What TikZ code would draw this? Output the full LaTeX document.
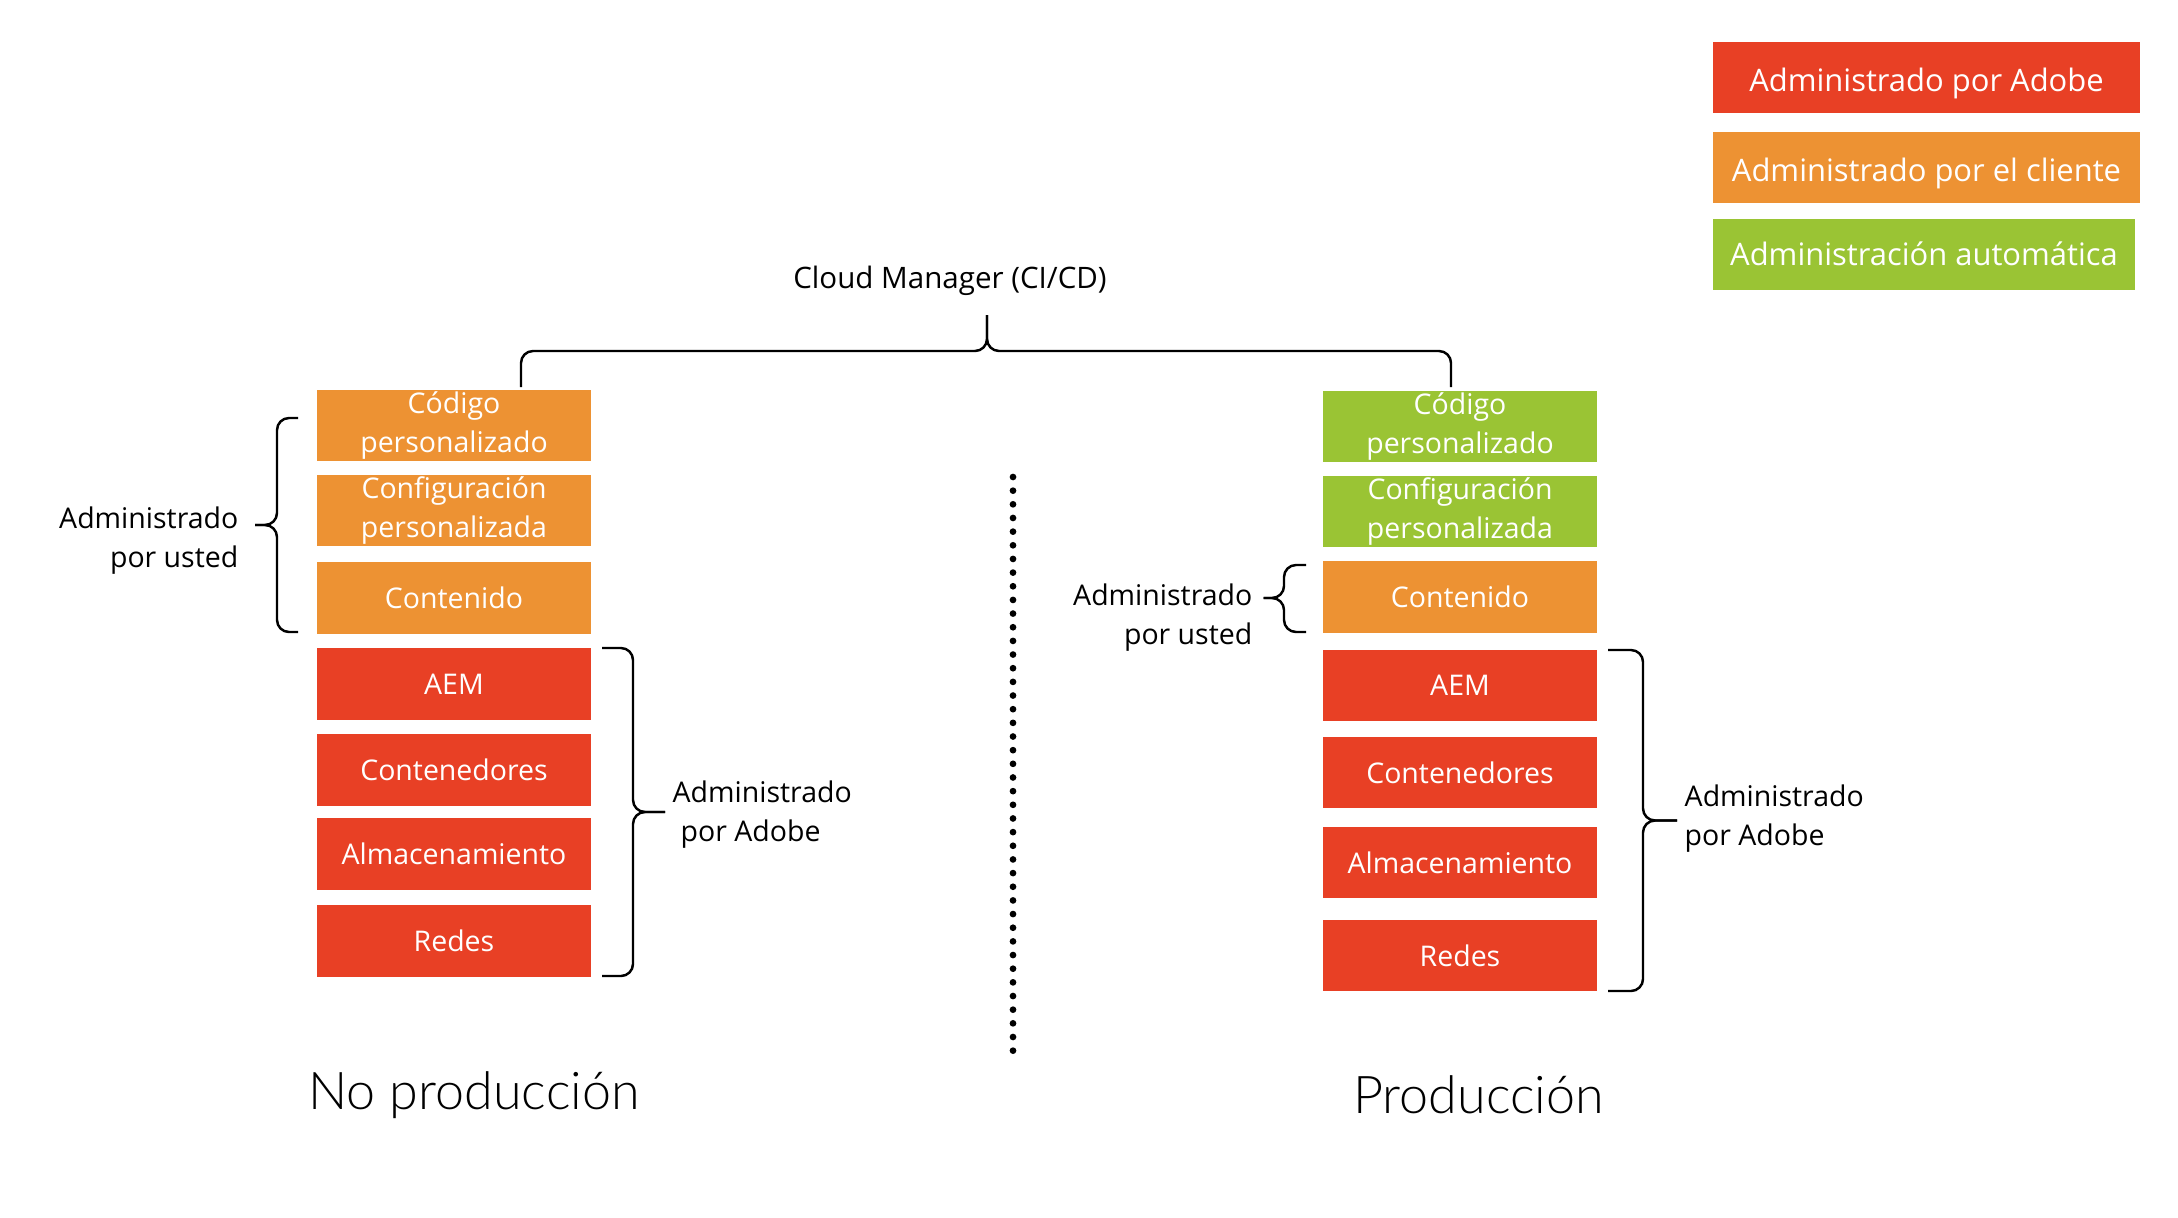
\documentclass[tikz,border=0pt]{standalone}
\usepackage{fontspec}
\setmainfont{Open Sans}
\IfFontExistsTF{Lato Light}{\newfontfamily\stagefont{Lato Light}}{\newfontfamily\stagefont{Lato}}
\definecolor{adobered}{HTML}{E84025}
\definecolor{clientorange}{HTML}{ED9233}
\definecolor{autogreen}{HTML}{9AC434}

\begin{document}
\begin{tikzpicture}[x=0.01cm, y=-0.01cm]
\tikzstyle{layer}=[minimum width=2.73cm, minimum height=0.71cm, inner sep=0pt,
  text=white, align=center, font=\fontsize{8.1}{11.3}\selectfont]
\tikzstyle{key}=[layer, minimum width=4.27cm, text depth=0pt, font=\fontsize{8.8}{11}\selectfont]
\tikzstyle{note}=[inner sep=0pt, font=\fontsize{8.1}{11.1}\selectfont]
\tikzstyle{stage}=[inner sep=0pt, anchor=base, font=\stagefont\fontsize{14.8}{17}\selectfont]
\tikzstyle{hook}=[line width=0.7pt, rounded corners=0.12cm]
\useasboundingbox (0,0) rectangle (2178,1218);

% legend
\node[key, fill=adobered, text height=0.27cm] (kadobe) at (1926.5,77.5) {Administrado por Adobe};
\node[key, fill=clientorange, text height=0.28cm] (kclient) at (1926.5,167.5) {Administrado por el cliente};
\node[key, fill=autogreen, text height=0.21cm, minimum width=4.22cm] (kauto) at (1924,254.5) {Administración automática};

% stacks
\foreach \place/\name/\txt in {{(454,425.5)/lcod/Código\\personalizado},
                               {(454,510.5)/lcfg/Configuración\\personalizada},
                               {(454,598)/lcon/Contenido},
                               {(1460,597)/rcon/Contenido}}
  \node[layer, fill=clientorange] (\name) at \place {\txt};
\foreach \place/\name/\txt in {{(454,684)/laem/AEM},
                               {(454,770)/lctr/Contenedores},
                               {(454,854)/lalm/Almacenamiento},
                               {(454,941)/lred/Redes},
                               {(1460,685.5)/raem/AEM},
                               {(1460,772.5)/rctr/Contenedores},
                               {(1460,862.5)/ralm/Almacenamiento},
                               {(1460,955.5)/rred/Redes}}
  \node[layer, fill=adobered] (\name) at \place {\txt};
\foreach \place/\name/\txt in {{(1460,426.5)/rcod/Código\\personalizado},
                               {(1460,511.5)/rcfg/Configuración\\personalizada}}
  \node[layer, fill=autogreen] (\name) at \place {\txt};

% cloud manager
\node[note, font=\fontsize{8.4}{11}\selectfont] (cicd) at (950,281) {Cloud Manager (CI/CD)};
\coordinate (ctip) at (987,315);
\draw[hook] (521,387) |- (987,351) -- (ctip);
\draw[hook] (1451,387) |- (987,351) -- (ctip);

% left side labels
\node[note, anchor=east, align=right] (lyou) at (239,541) {Administrado\\por usted};
\coordinate (lytip) at (255,525);
\draw[hook] (298,418) -| (277,525) -- (lytip);
\draw[hook] (298,632) -| (277,525) -- (lytip);
\node[note, anchor=west, align=left] (ladobe) at (672,815) {Administrado\\\hspace*{0.08cm}por Adobe};
\coordinate (latip) at (665,812);
\draw[hook] (602,648) -| (633,812) -- (latip);
\draw[hook] (602,976) -| (633,812) -- (latip);

% right side labels
\node[note, anchor=east, align=right] (ryou) at (1253,617.5) {Administrado\\por usted};
\coordinate (rytip) at (1263.5,598);
\draw[hook] (1306,565) -| (1284,598) -- (rytip);
\draw[hook] (1306,632) -| (1284,598) -- (rytip);
\node[note, anchor=west, align=left] (radobe) at (1684,819) {Administrado\\por Adobe};
\coordinate (ratip) at (1677,820.5);
\draw[hook] (1608,650) -| (1643,820.5) -- (ratip);
\draw[hook] (1608,991) -| (1643,820.5) -- (ratip);

% divider
\coordinate (dtop) at (1013,477);
\coordinate (dbot) at (1013,1052);
\draw[line width=0.067cm, line cap=round, dash pattern=on 0pt off 0.1365cm] (dtop) -- (dbot);

\node[stage] (nonprod) at (474,1109) {No producción};
\node[stage] (prod) at (1478.5,1113) {Producción};
\end{tikzpicture}
\end{document}
